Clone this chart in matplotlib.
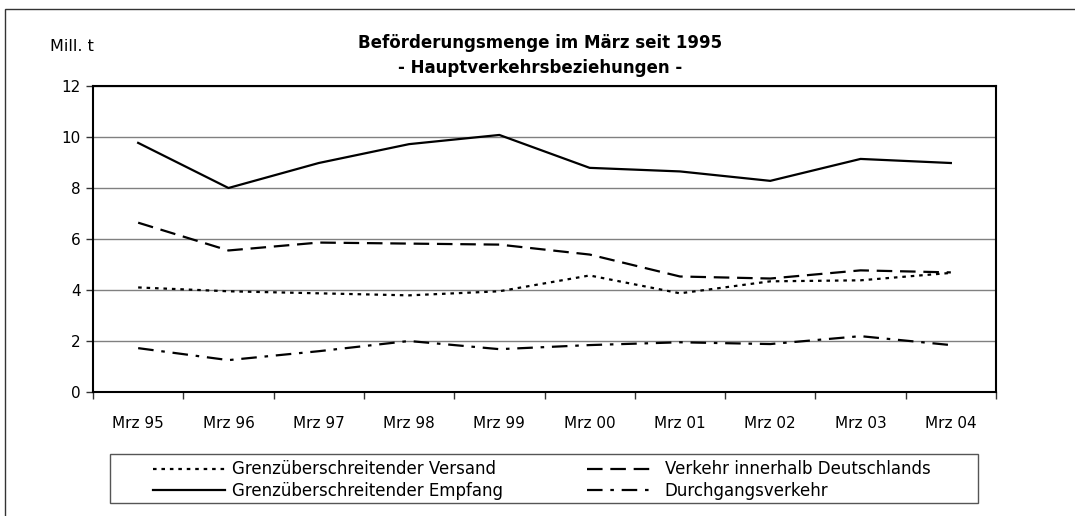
import matplotlib
matplotlib.use('Agg')
import matplotlib.pyplot as plt
from matplotlib.patches import Rectangle

plt.rcParams['font.family'] = ['Liberation Sans Narrow', 'DejaVu Sans']

# Daten (Mill. t)
monate = ['Mrz 95', 'Mrz 96', 'Mrz 97', 'Mrz 98', 'Mrz 99',
          'Mrz 00', 'Mrz 01', 'Mrz 02', 'Mrz 03', 'Mrz 04']
versand = [4.10, 3.95, 3.87, 3.79, 3.95, 4.57, 3.87, 4.34, 4.38, 4.67]
inland = [6.64, 5.55, 5.86, 5.82, 5.78, 5.39, 4.53, 4.45, 4.77, 4.69]
empfang = [9.77, 8.00, 8.98, 9.72, 10.08, 8.79, 8.65, 8.28, 9.14, 8.98]
durchgang = [1.72, 1.25, 1.60, 2.00, 1.68, 1.84, 1.95, 1.88, 2.19, 1.84]

W, H = 1075, 516
fig = plt.figure(figsize=(W / 100, H / 100), dpi=100)

# Rahmen um das Diagramm
fig.patches.append(Rectangle((5 / W, -0.01), 1.2, 1 - 9 / H + 0.01,
                             transform=fig.transFigure, fill=False,
                             edgecolor='#333333', lw=1.0))

ax = fig.add_axes([93 / W, 1 - 392 / H, (996 - 93) / W, (392 - 86) / H])

x = list(range(len(monate)))
l1, = ax.plot(x, versand, color='black', lw=1.6, dashes=(1.6, 2.2),
              label='Grenzüberschreitender Versand')
l2, = ax.plot(x, empfang, color='black', lw=1.6,
              label='Grenzüberschreitender Empfang')
l3, = ax.plot(x, inland, color='black', lw=1.6, dashes=(7, 3.5),
              label='Verkehr innerhalb Deutschlands')
l4, = ax.plot(x, durchgang, color='black', lw=1.6, dashes=(7, 3.5, 1.6, 3.5),
              label='Durchgangsverkehr')

ax.set_xlim(-0.5, len(monate) - 0.5)
ax.set_ylim(0, 12)
ax.set_yticks(range(0, 13, 2))
ax.yaxis.grid(True, color='#808080', lw=1.0)
ax.set_axisbelow(True)

ax.set_xticks([i - 0.5 for i in range(len(monate) + 1)])
ax.set_xticklabels([])
ax.set_xticks(x, minor=True)
ax.set_xticklabels(monate, minor=True)
ax.tick_params(axis='x', which='major', length=5, width=1, color='#333333')
ax.tick_params(axis='x', which='minor', length=0, pad=17, labelsize=11)
ax.tick_params(axis='y', length=5, width=1, color='#333333', labelsize=11, pad=4)

for s in ax.spines.values():
    s.set_linewidth(1.5)
    s.set_color('black')

fig.text(540 / W, 1 - 43 / H, 'Beförderungsmenge im März seit 1995',
         ha='center', va='center', fontsize=12, fontweight='bold')
fig.text(540 / W, 1 - 68 / H, '- Hauptverkehrsbeziehungen -',
         ha='center', va='center', fontsize=12, fontweight='bold')
fig.text(50 / W, 1 - 47 / H, 'Mill. t', ha='left', va='center', fontsize=11.5)

# Legendenrahmen
fig.patches.append(Rectangle((110 / W, 1 - 503 / H), (978 - 110) / W, 49 / H,
                             transform=fig.transFigure, fill=False,
                             edgecolor='#555555', lw=1.0))

fs = 12
kw = dict(frameon=False, fontsize=fs, labelspacing=0.2, borderpad=0,
          borderaxespad=0, loc='center left')
fig.legend([l1, l2], [l1.get_label(), l2.get_label()],
           bbox_to_anchor=(153 / W, 1 - 480 / H),
           handlelength=72 / 16.7, handletextpad=7 / 16.7, **kw)
fig.legend([l3, l4], [l3.get_label(), l4.get_label()],
           bbox_to_anchor=(587 / W, 1 - 480 / H),
           handlelength=65 / 16.7, handletextpad=13 / 16.7, **kw)

fig.savefig('out.png', dpi=100)
